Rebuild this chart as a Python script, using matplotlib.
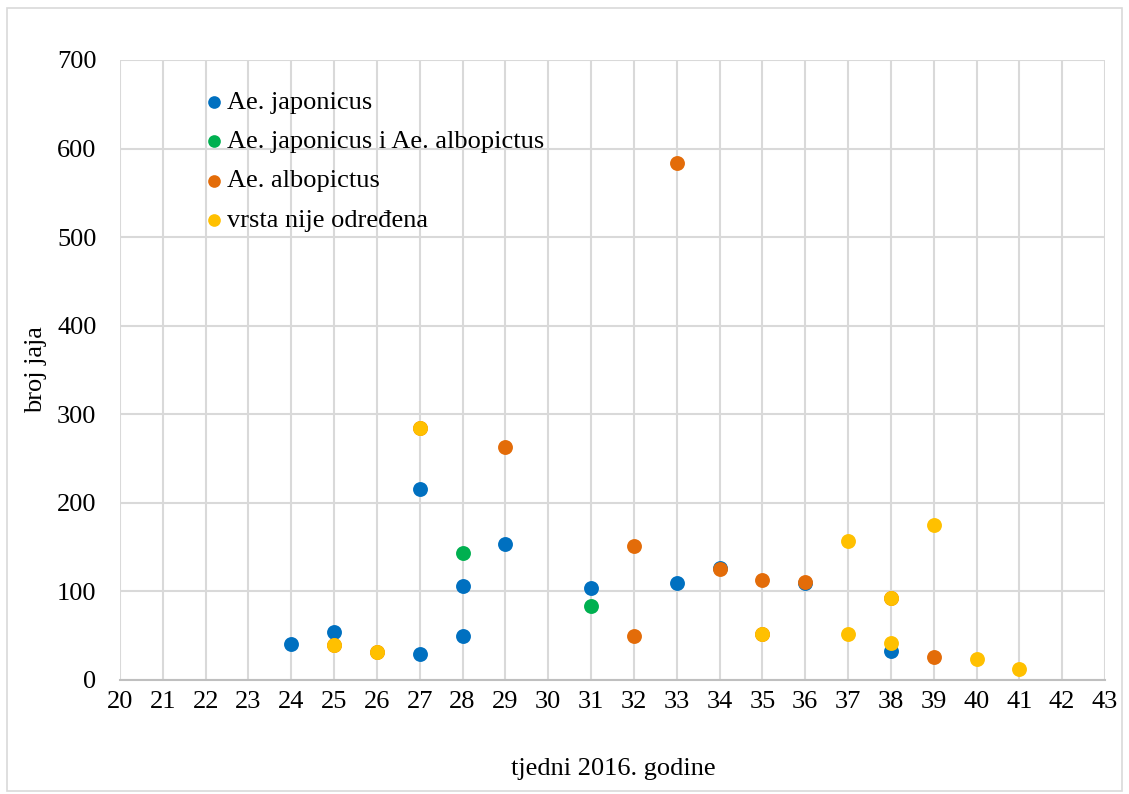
import matplotlib.pyplot as plt
from matplotlib.patches import Rectangle

plt.rcParams['font.family'] = ['Liberation Serif', 'DejaVu Serif']

# tjedni (x) i broj jaja (y) po seriji
jap_week = [24, 25, 27, 27, 28, 28, 29, 31, 33, 34, 36, 38]
jap_eggs = [41, 54, 216, 29, 106, 50, 153, 104, 109, 127, 109, 33]

mix_week = [28, 31]
mix_eggs = [143, 84]

alb_week = [25, 26, 27, 29, 32, 32, 33, 34, 35, 35, 36, 38, 39]
alb_eggs = [40, 32, 284, 263, 151, 50, 584, 125, 113, 52, 111, 93, 26]

unk_week = [25, 26, 27, 35, 37, 37, 38, 38, 39, 40, 41]
unk_eggs = [40, 32, 284, 52, 157, 52, 93, 42, 175, 24, 12]

labels = ["Ae. japonicus", "Ae. japonicus i Ae. albopictus", "Ae. albopictus", "vrsta nije određena"]
colors = ["#0070C0", "#00B050", "#E36C09", "#FFC000"]

W, H = 1129, 794
fig = plt.figure(figsize=(W / 100, H / 100), dpi=100)
fig.patches.append(Rectangle((0.006, 0.004), 0.988, 0.986, transform=fig.transFigure,
                             fill=False, edgecolor="#d9d9d9", linewidth=1.2))
ax = fig.add_axes([120 / W, 1 - 680 / H, 985 / W, 620 / H])

series = [(jap_week, jap_eggs), (mix_week, mix_eggs), (alb_week, alb_eggs), (unk_week, unk_eggs)]
for (x, y), lab, col in zip(series, labels, colors):
    ax.scatter(x, y, s=115, color=col, label=lab, zorder=3, linewidths=0)

ax.set_xlim(20, 43)
ax.set_ylim(0, 700)
ax.set_xticks(range(20, 44))
ax.set_yticks(range(0, 701, 100))
ax.grid(True, color="#d9d9d9", linewidth=1.5)
ax.set_axisbelow(True)
for s in ["top", "right", "left"]:
    ax.spines[s].set_visible(False)
ax.spines["bottom"].set_color("#bfbfbf")
ax.spines["bottom"].set_linewidth(1.5)
ax.tick_params(axis="both", length=0, labelsize=19)
ax.tick_params(axis="y", pad=17)
ax.tick_params(axis="x", pad=8)

fig.text(613 / W, 1 - 769 / H, "tjedni 2016. godine", fontsize=19, ha="center", va="center")
fig.text(36 / W, 1 - 370 / H, "broj jaja", fontsize=19, ha="center", va="center", rotation=90)

ax.legend(loc="upper left", bbox_to_anchor=(0.058, 0.968), frameon=False, fontsize=19,
          handletextpad=-0.5, labelspacing=0.6, markerscale=0.85, borderaxespad=0)

fig.savefig("out.png", dpi=100)
